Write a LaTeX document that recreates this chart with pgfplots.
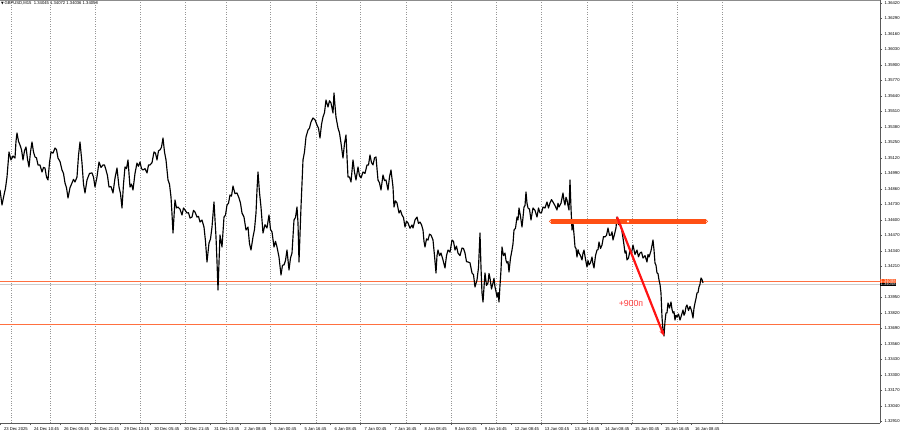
\documentclass[border=0pt]{standalone}
\usepackage{pgfplots}
\pgfplotsset{compat=1.18}
\usepackage{fontspec}
\setmainfont{Liberation Sans}
\newfontfamily\dejavu{DejaVu Sans}
\usetikzlibrary{arrows.meta}
\definecolor{mtorange}{RGB}{255,112,64}
\definecolor{mtthick}{RGB}{255,80,20}
\definecolor{mtred}{RGB}{255,20,20}
\definecolor{mttext}{RGB}{255,60,60}
\definecolor{mtgrid}{RGB}{150,150,150}
\definecolor{mtbid}{RGB}{205,205,205}
\newcommand{\mtfont}{\fontsize{4.2}{5}\selectfont}
\begin{document}
\begin{tikzpicture}
\useasboundingbox (0,0) rectangle (900bp,434bp);
\begin{axis}[
  at={(0bp,11bp)}, anchor=south west,
  scale only axis, width=880bp, height=423bp,
  xmin=0, xmax=880, ymin=1.32896, ymax=1.36445,
  axis x line*=bottom, axis y line*=right,
  axis line style={black!65, line width=0.8bp},
  scaled y ticks=false,
  ytick={1.36420,1.36290,1.36160,1.36030,1.35900,1.35770,1.35640,1.35510,1.35380,1.35250,1.35120,1.34990,1.34860,1.34730,1.34600,1.34470,1.34340,1.34210,1.33950,1.33820,1.33690,1.33560,1.33430,1.33300,1.33170,1.33040,1.32910},
  yticklabel style={font=\mtfont, xshift=-1bp, /pgf/number format/fixed, /pgf/number format/fixed zerofill, /pgf/number format/precision=5, /pgf/number format/assume math mode=true},
  xtick={0,30.05,60.1,90.15,120.2,150.25,180.3,210.35,240.4,270.45,300.5,330.55,360.6,390.65,420.7,450.75,480.8,510.85,540.9,570.95,601,631.05,661.1,691.15},
  xticklabels={23 Dec 2025,24 Dec 10:45,26 Dec 05:45,26 Dec 21:45,29 Dec 13:45,30 Dec 05:45,30 Dec 21:45,31 Dec 13:45,2 Jan 08:45,5 Jan 00:45,5 Jan 16:45,6 Jan 08:45,7 Jan 00:45,7 Jan 16:45,8 Jan 08:45,9 Jan 00:45,9 Jan 16:45,12 Jan 08:45,13 Jan 00:45,13 Jan 16:45,14 Jan 08:45,15 Jan 00:45,15 Jan 16:45,16 Jan 08:45},
  xticklabel style={font=\mtfont, anchor=north west, xshift=0.5bp, yshift=1bp},
  tick style={black!65, line width=0.5bp},
  major tick length=2bp, tick align=outside,
  extra x ticks={11,50,95,140,185,226,270,316,360,406,451,496,541,587,632,677,722},
  extra x tick labels={},
  extra x tick style={grid=major, major tick length=0pt, major grid style={mtgrid, line width=0.6bp, dash pattern=on 0.8bp off 1.6bp}},
  clip=false,
]
% horizontal levels
\addplot[mtbid, line width=0.8bp] coordinates {(0,1.34062) (880,1.34062)};
\addplot[mtorange, line width=0.8bp] coordinates {(0,1.34087) (880,1.34087)};
\addplot[mtorange, line width=0.9bp] coordinates {(0,1.33727) (880,1.33727)};
% price
\addplot[black, line width=1.15bp, line join=round] coordinates {
(0,1.34851) (2,1.34725) (4,1.34809) (5.5,1.34866) (7,1.34960) (9,1.35170) (11,1.35103) (13,1.35136) (15,1.35119) (16,1.35260) (17,1.35329) (18.5,1.35260) (20,1.35228) (21.5,1.35190) (23,1.35103) (24.5,1.35180) (26,1.35212) (27.5,1.35110) (29,1.35044) (30.5,1.35170) (32,1.35254) (33.5,1.35170) (35,1.35128) (36.5,1.35120) (38,1.35061) (40,1.35060) (42,1.35002) (43.5,1.35040) (45,1.35035) (46.5,1.34960) (48,1.34935) (49.5,1.35080) (51,1.35170) (53,1.35160) (55,1.35203) (56.5,1.35190) (58,1.35119) (60,1.35090) (62,1.35019) (63.5,1.34990) (65,1.34910) (66.5,1.34870) (68,1.34784) (70,1.34870) (72,1.34910) (73.5,1.34940) (75,1.34918) (77,1.34960) (78.5,1.35140) (80,1.35254) (82,1.35077) (83.5,1.34900) (85,1.34826) (87,1.34935) (89.5,1.34990) (92,1.34994) (93.5,1.34960) (95,1.34876) (97,1.34960) (99,1.35086) (101,1.35040) (103,1.35061) (104.5,1.35060) (106,1.35019) (107.5,1.34970) (109,1.34876) (111,1.34880) (113,1.34826) (115,1.34950) (117,1.35035) (119,1.34876) (120.5,1.34820) (122,1.34700) (123.5,1.34900) (125,1.35044) (126.5,1.35030) (128,1.35103) (130,1.34876) (131.5,1.34900) (133,1.34851) (135,1.34990) (137,1.35077) (138.5,1.35050) (140,1.35086) (141.5,1.35030) (143,1.35019) (145,1.35030) (147,1.34994) (148.5,1.35060) (150,1.35061) (152,1.35080) (154,1.35170) (155.5,1.35160) (157,1.35103) (158.5,1.35180) (160,1.35187) (161.5,1.35210) (163,1.35287) (164.5,1.35170) (166,1.35103) (168,1.34935) (169.5,1.34900) (171,1.34792) (172,1.34650) (173,1.34490) (175,1.34767) (176.5,1.34700) (178,1.34708) (180,1.34690) (182,1.34641) (183.5,1.34700) (185,1.34683) (187,1.34658) (188.5,1.34660) (190,1.34616) (192,1.34624) (193.5,1.34680) (195,1.34666) (197,1.34624) (198.5,1.34630) (200,1.34582) (202,1.34599) (204,1.34540) (205.5,1.34420) (207,1.34247) (209,1.34406) (210.5,1.34440) (212,1.34540) (214,1.34750) (216,1.34457) (217,1.34250) (218,1.34012) (220,1.34473) (222,1.34373) (224,1.34624) (225.5,1.34640) (227,1.34725) (228.5,1.34740) (230,1.34809) (231.5,1.34800) (233,1.34884) (235,1.34820) (237,1.34826) (239,1.34784) (240.5,1.34740) (242,1.34658) (244,1.34624) (246,1.34515) (248,1.34540) (249.5,1.34400) (251,1.34347) (253,1.34457) (254.5,1.34520) (256,1.34658) (257,1.34850) (258,1.35002) (259.5,1.34830) (261,1.34708) (263,1.34490) (265,1.34560) (267,1.34532) (269,1.34641) (270.5,1.34520) (272,1.34499) (274,1.34373) (275.5,1.34420) (277,1.34373) (279,1.34289) (281,1.34138) (282.5,1.34220) (284,1.34222) (285.5,1.34260) (287,1.34347) (289,1.34180) (290.5,1.34280) (292,1.34322) (294,1.34599) (295.5,1.34620) (297,1.34708) (298,1.34574) (299,1.34247) (301,1.34708) (303,1.35103) (304.5,1.35170) (306,1.35296) (308,1.35354) (309.5,1.35370) (311,1.35421) (313,1.35455) (315,1.35440) (317,1.35396) (318.5,1.35370) (320,1.35287) (321.5,1.35400) (323,1.35463) (324.5,1.35500) (326,1.35606) (328,1.35547) (329.5,1.35600) (331,1.35581) (333,1.35497) (334,1.35665) (335,1.35560) (336,1.35463) (338,1.35371) (339.5,1.35330) (341,1.35245) (343,1.35119) (344.5,1.35240) (346,1.35312) (347,1.35130) (348,1.34960) (349.5,1.34960) (351,1.34918) (353,1.35103) (354.5,1.35000) (356,1.34935) (358,1.35044) (359.5,1.34970) (361,1.34952) (363,1.35002) (365,1.34990) (367,1.35061) (368.5,1.35060) (370,1.35145) (371.5,1.35080) (373,1.35061) (374.5,1.35120) (376,1.35128) (377,1.35030) (378,1.34935) (379.5,1.34910) (381,1.34851) (383,1.34977) (384.5,1.34930) (386,1.34935) (388,1.34851) (389.5,1.34960) (391,1.35019) (393,1.34876) (394,1.34708) (395.5,1.34760) (397,1.34742) (399,1.34658) (400.5,1.34680) (402,1.34641) (403.5,1.34620) (405,1.34540) (406.5,1.34590) (408,1.34574) (410,1.34530) (412,1.34557) (413,1.34532) (415,1.34600) (417,1.34624) (418.5,1.34570) (420,1.34582) (421.5,1.34560) (423,1.34515) (424,1.34420) (425,1.34373) (426.5,1.34440) (428,1.34431) (429.5,1.34480) (431,1.34473) (433,1.34431) (434.5,1.34300) (436,1.34155) (437,1.34300) (438,1.34347) (439.5,1.34300) (441,1.34322) (443,1.34264) (445,1.34197) (446.5,1.34300) (448,1.34347) (450,1.34330) (452,1.34431) (453.5,1.34420) (455,1.34347) (456.5,1.34380) (458,1.34322) (460,1.34300) (462,1.34364) (463.5,1.34360) (465,1.34322) (466.5,1.34250) (468,1.34247) (470,1.34240) (472,1.34155) (473.5,1.34140) (475,1.34037) (477,1.34096) (478.5,1.34200) (480,1.34490) (481,1.34200) (482,1.33987) (483,1.33911) (485,1.34155) (486.5,1.34050) (488,1.34071) (489,1.34150) (490,1.34113) (491.5,1.34020) (493,1.34071) (494,1.34110) (495,1.34037) (496,1.34000) (497,1.33953) (498,1.33990) (499,1.33911) (500,1.34050) (501,1.34180) (502,1.34373) (503.5,1.34300) (505,1.34322) (506,1.34260) (507,1.34238) (508,1.34250) (509,1.34163) (510.5,1.34280) (512,1.34347) (513,1.34400) (514,1.34515) (515.5,1.34530) (517,1.34624) (518,1.34600) (519,1.34700) (520.5,1.34630) (522,1.34540) (523,1.34620) (524,1.34708) (525,1.34720) (526,1.34834) (527,1.34740) (528,1.34700) (529.5,1.34690) (531,1.34599) (532,1.34650) (533,1.34700) (535,1.34680) (537,1.34624) (538.5,1.34700) (540,1.34658) (541.5,1.34660) (543,1.34708) (545,1.34700) (547,1.34750) (548.5,1.34700) (550,1.34742) (551.5,1.34770) (553,1.34750) (555,1.34720) (557,1.34683) (558,1.34740) (559,1.34708) (561,1.34740) (563,1.34826) (564,1.34760) (565,1.34725) (566,1.34790) (567,1.34767) (568,1.34720) (569,1.34683) (570,1.34935) (571,1.34700) (572,1.34515) (573,1.34574) (574,1.34480) (575,1.34373) (576,1.34360) (577,1.34289) (578,1.34350) (579,1.34322) (580.5,1.34300) (582,1.34264) (583,1.34320) (584,1.34347) (585.5,1.34270) (587,1.34205) (588,1.34260) (589,1.34222) (590.5,1.34240) (592,1.34289) (593,1.34230) (594,1.34197) (595.5,1.34300) (597,1.34347) (598,1.34350) (599,1.34415) (600.5,1.34360) (602,1.34389) (603.5,1.34460) (605,1.34457) (606.5,1.34470) (608,1.34532) (609.5,1.34470) (611,1.34473) (612,1.34500) (613,1.34431) (614.5,1.34480) (616,1.34532) (617,1.34624) (618.5,1.34560) (620,1.34574) (621.5,1.34530) (623,1.34448) (624,1.34390) (625,1.34322) (626,1.34340) (627,1.34264) (628.5,1.34280) (630,1.34347) (631.5,1.34320) (633,1.34389) (635,1.34310) (637,1.34347) (638.5,1.34290) (640,1.34322) (641.5,1.34330) (643,1.34280) (645,1.34300) (647,1.34247) (648,1.34310) (649,1.34289) (651,1.34340) (653,1.34431) (654,1.34350) (655,1.34238) (656,1.34220) (657,1.34155) (658,1.34150) (659,1.34096) (660,1.34060) (661,1.33987) (662,1.33785) (663,1.33676) (664,1.33626) (665,1.33750) (666,1.33819) (667,1.33820) (668,1.33903) (669.5,1.33860) (671,1.33911) (672,1.33850) (673,1.33819) (674,1.33830) (675,1.33760) (676,1.33800) (677,1.33785) (678.5,1.33810) (680,1.33760) (681.5,1.33800) (683,1.33844) (684,1.33800) (685,1.33819) (686,1.33870) (687,1.33886) (688.5,1.33840) (690,1.33874) (691.5,1.33840) (693,1.33777) (694,1.33860) (695,1.33903) (696,1.33940) (697,1.33987) (698,1.33990) (699,1.34037) (700,1.34060) (701,1.34113) (702,1.34100) (703,1.34071)
};
% thick level
\addplot[mtthick, line width=4.6bp] coordinates {(551,1.34587) (706,1.34587)};
\addplot[only marks, mark=o, mark size=1.6bp, mtthick, mark options={fill=white, line width=0.6bp}] coordinates {(551,1.34587) (706,1.34587)};
\addplot[only marks, mark=*, mark size=0.8bp, white] coordinates {(628,1.34587)};
% arrow
\addplot[mtred, line width=2.2bp, -{Stealth[length=6bp, width=5bp]}] coordinates {(617,1.34624) (664,1.33626)};
\node[font=\fontsize{8.8}{10}\selectfont, text=mttext, anchor=center] at (axis cs:631,1.33895) {+900п};
% price boxes
\node[fill=mtthick, text=white, font=\mtfont, inner sep=0.4bp, anchor=west] at (axis cs:880,1.34090) {1.34088};
\node[fill=black, text=white, font=\mtfont, inner sep=0.4bp, anchor=west] at (axis cs:880,1.34058) {1.34058};
% top frame and title
\draw[black!45, line width=0.6bp] (rel axis cs:0,1) -- (rel axis cs:1,1);
\node[anchor=north west, font=\mtfont, inner sep=0pt] at ([xshift=1bp,yshift=-1.2bp]rel axis cs:0,1) {{\dejavu\fontsize{3.5}{4}\selectfont ▼}\,GBPUSD,M15\ \ 1.34045 1.34072 1.34036 1.34058};
\end{axis}
\end{tikzpicture}
\end{document}
